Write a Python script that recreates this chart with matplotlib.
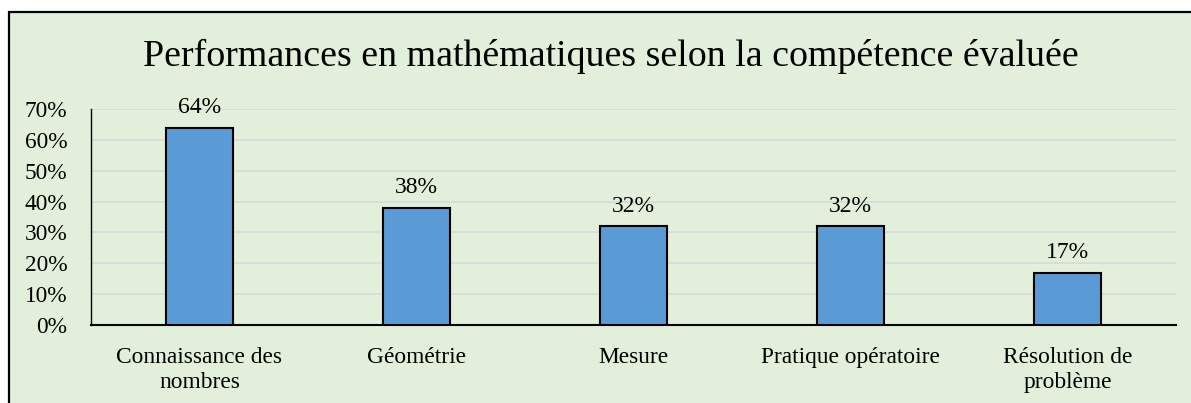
import numpy as np
import matplotlib.pyplot as plt
from matplotlib.patches import Rectangle

categories = ["Connaissance des\nnombres", "Géométrie", "Mesure",
              "Pratique opératoire", "Résolution de\nproblème"]
values = [0.64, 0.38, 0.32, 0.32, 0.17]
value_labels = ["64%", "38%", "32%", "32%", "17%"]
yticks = [0, 0.1, 0.2, 0.3, 0.4, 0.5, 0.6, 0.7]
ytick_labels = ["0%", "10%", "20%", "30%", "40%", "50%", "60%", "70%"]

plt.rcParams['font.family'] = ['Liberation Serif', 'DejaVu Serif']

W, H = 1191, 403
fig = plt.figure(figsize=(W / 100, H / 100), dpi=100)
fig.patch.set_facecolor('white')

# chart background with left/top border
bg = Rectangle((9 / W, -0.1), 1.2, 1 - 12 / H + 0.1, transform=fig.transFigure,
               facecolor='#E2EFDA', edgecolor='black', linewidth=1.6, zorder=-1)
fig.patches.append(bg)

ax = fig.add_axes([91 / W, 1 - 325 / H, (1176 - 91) / W, (325 - 109) / H])
ax.set_zorder(1)
ax.set_facecolor('none')

x = np.arange(len(categories))
ax.bar(x, values, width=0.31, color='#5B9BD5', edgecolor='black', linewidth=1.5, zorder=3)
for xi, v, lab in zip(x, values, value_labels):
    ax.text(xi, v + 0.03, lab, ha='center', va='bottom', fontsize=17, zorder=4)

ax.set_xlim(-0.5, len(categories) - 0.5)
ax.set_ylim(0, 0.7)
ax.set_yticks(yticks)
ax.set_yticklabels(ytick_labels, fontsize=16.8)
ax.set_xticks(x)
ax.set_xticklabels(categories, fontsize=16.8, linespacing=1.3)
ax.tick_params(axis='x', length=0, pad=15.5)
ax.tick_params(axis='y', length=0, pad=17)
ax.grid(axis='y', color='#D9D9D9', linewidth=1.2, zorder=0)
for s in ['top', 'right']:
    ax.spines[s].set_visible(False)
ax.spines['left'].set_linewidth(1.0)
ax.spines['bottom'].set_linewidth(1.5)

fig.text(611 / W, 1 - 56 / H, "Performances en mathématiques selon la compétence évaluée",
         ha='center', va='center', fontsize=27.3, zorder=5)

fig.savefig('out.png', dpi=100)
